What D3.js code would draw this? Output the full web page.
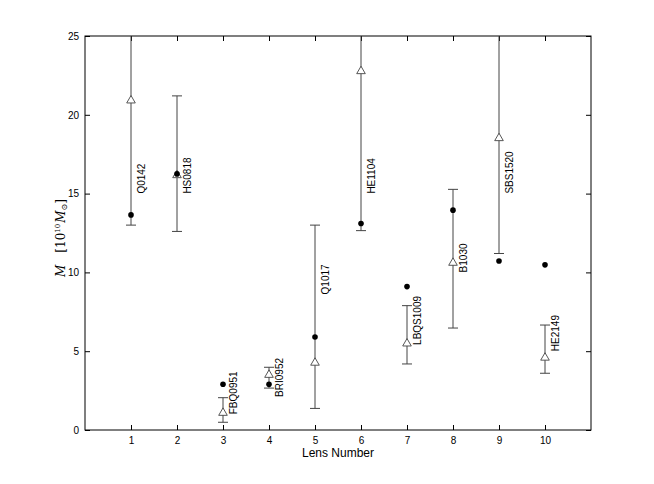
<!DOCTYPE html>
<html><head><meta charset="utf-8">
<script src="https://cdn.jsdelivr.net/npm/d3@7"></script>
<style>body{margin:0;background:#fff}svg{display:block}</style>
</head><body>
<svg id="c" width="654" height="484"></svg>
<script>
const lensNumbers = [1,2,3,4,5,6,7,8,9,10];
const lensNames = ["Q0142","HS0818","FBQ0951","BRI0952","Q1017","HE1104","LBQS1009","B1030","SBS1520","HE2149"];
const dotValues = [13.65,16.25,2.9,2.9,5.9,13.1,9.1,13.95,10.72,10.48];
const triValues = [20.94,16.2,1.12,3.53,4.3,22.8,5.52,10.64,18.55,4.62];
const errLow   = [13.0,12.6,0.49,2.66,1.37,12.65,4.19,6.47,11.2,3.6];
const errHigh  = [28.0,21.2,2.05,3.98,13.0,28.0,7.89,15.27,28.0,6.66];
const labelY   = [15.0,15.0,1.0,2.1,8.6,15.0,5.4,10.0,15.0,5.0];
const xTicks = [1,2,3,4,5,6,7,8,9,10];
const yTicks = [0,5,10,15,20,25];

const svg = d3.select("#c");
const L=85, R=591, T=36, B=430;
const x = d3.scaleLinear().domain([0,11]).range([L,R]);
const y = d3.scaleLinear().domain([0,25]).range([B,T]);
const font = "Liberation Sans, Arial, Helvetica, sans-serif";

svg.append("defs").append("clipPath").attr("id","clip")
  .append("rect").attr("x",L).attr("y",T).attr("width",R-L).attr("height",B-T);

const ax = svg.append("g").attr("font-family",font).attr("font-size",10);
ax.append("g").attr("transform",`translate(0,${B})`)
  .call(d3.axisBottom(x).tickValues(xTicks).tickSizeInner(-5).tickSizeOuter(0).tickPadding(7))
  .call(g=>g.select(".domain").remove());
ax.append("g").attr("transform",`translate(0,${T})`)
  .call(d3.axisTop(x).tickValues(xTicks).tickSizeInner(-5).tickSizeOuter(0).tickFormat(""))
  .call(g=>g.select(".domain").remove());
ax.append("g").attr("transform",`translate(${L},0)`)
  .call(d3.axisLeft(y).tickValues(yTicks).tickSizeInner(-5).tickSizeOuter(0).tickPadding(6))
  .call(g=>g.select(".domain").remove());
ax.append("g").attr("transform",`translate(${R},0)`)
  .call(d3.axisRight(y).tickValues(yTicks).tickSizeInner(-5).tickSizeOuter(0).tickFormat(""))
  .call(g=>g.select(".domain").remove());
ax.selectAll("text").attr("fill","#000");
ax.selectAll("line").attr("stroke","#000");
svg.append("rect").attr("x",L).attr("y",T).attr("width",R-L).attr("height",B-T)
  .attr("fill","none").attr("stroke","#000").attr("stroke-width",1);

const data = lensNumbers.map((n,i)=>({n,name:lensNames[i],dot:dotValues[i],tri:triValues[i],lo:errLow[i],hi:errHigh[i],ly:labelY[i]}));
const g = svg.append("g").attr("clip-path","url(#clip)");
const cw = 5;
g.selectAll(".eb").data(data).join("line")
  .attr("x1",d=>x(d.n)).attr("x2",d=>x(d.n)).attr("y1",d=>y(d.lo)).attr("y2",d=>y(d.hi))
  .attr("stroke","#444").attr("stroke-width",1);
g.selectAll(".cl").data(data).join("line")
  .attr("x1",d=>x(d.n)-cw).attr("x2",d=>x(d.n)+cw).attr("y1",d=>y(d.lo)).attr("y2",d=>y(d.lo))
  .attr("stroke","#444");
g.selectAll(".ch").data(data).join("line")
  .attr("x1",d=>x(d.n)-cw).attr("x2",d=>x(d.n)+cw).attr("y1",d=>y(d.hi)).attr("y2",d=>y(d.hi))
  .attr("stroke","#444");
const tri = d3.symbol().type(d3.symbolTriangle).size(32);
g.selectAll(".tr").data(data).join("path")
  .attr("d",tri).attr("transform",d=>`translate(${x(d.n)},${y(d.tri)+0.5})`)
  .attr("fill","#fff").attr("stroke","#444").attr("stroke-width",0.9);
g.selectAll(".dt").data(data).join("circle")
  .attr("cx",d=>x(d.n)).attr("cy",d=>y(d.dot)).attr("r",2.8).attr("fill","#000");

svg.append("g").selectAll("text").data(data).join("text")
  .attr("transform",d=>`translate(${x(d.n)+14},${y(d.ly)}) rotate(-90)`)
  .attr("font-family",font).attr("font-size",10).attr("fill","#000")
  .text(d=>d.name);

svg.append("text").attr("x",(L+R)/2).attr("y",457).attr("text-anchor","middle")
  .attr("font-family",font).attr("font-size",12).text("Lens Number");
const yl = svg.append("text").attr("transform",`translate(65,${(T+B)/2+5}) rotate(-90)`)
  .attr("text-anchor","middle").attr("font-family","DejaVu Serif, Liberation Serif, serif").attr("font-size",12);
yl.append("tspan").attr("font-style","italic").text("M");
yl.append("tspan").attr("dx",12).text("[10");
yl.append("tspan").attr("font-size",7).attr("dy",-5).text("10");
yl.append("tspan").attr("dy",5).attr("font-style","italic").attr("dx",1).text("M");
yl.append("tspan").attr("font-size",8).attr("dy",2).text("⊙");
yl.append("tspan").attr("dy",-2).text("]");
</script>
</body></html>
